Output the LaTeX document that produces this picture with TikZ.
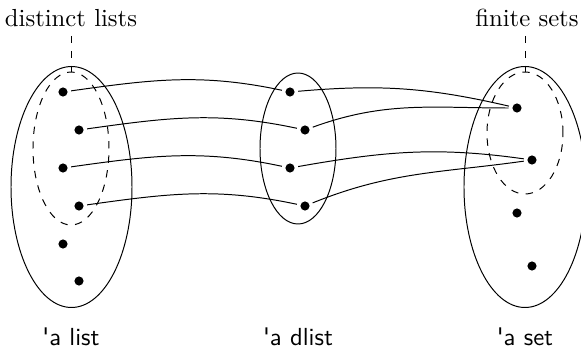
\documentclass[tikz,border=0pt]{standalone}
\usetikzlibrary{shapes.geometric}
\begin{document}
\begin{tikzpicture}[x=0.405pt,y=-0.405pt,
  dot/.style={circle,fill,inner sep=0pt,minimum size=3.7pt,outer sep=1.5pt},
  oval/.style={ellipse,draw,inner sep=0pt},
  dashoval/.style={ellipse,draw,dashed,inner sep=0pt},
  typelab/.style={anchor=base,font=\sffamily},
  setlab/.style={anchor=base},
  link/.style={draw}]
\useasboundingbox (0,0) rectangle (581,350);
% ellipses
\node[oval,minimum width=121*0.405pt,minimum height=241*0.405pt] (L) at (71.5,187) {};
\node[dashoval,minimum width=76*0.405pt,minimum height=153*0.405pt] (Ld) at (71,148.5) {};
\node[oval,minimum width=76*0.405pt,minimum height=151*0.405pt] (M) at (298,148.5) {};
\node[oval,minimum width=122*0.405pt,minimum height=241*0.405pt] (R) at (525,187) {};
\node[dashoval,minimum width=76*0.405pt,minimum height=122*0.405pt] (Rd) at (525,133) {};
% dots
\node[dot] (l1) at (63,92) {};
\node[dot] (l2) at (79,130) {};
\node[dot] (l3) at (63,168) {};
\node[dot] (l4) at (79,206) {};
\node[dot] (l5) at (63,244) {};
\node[dot] (l6) at (79,281) {};
\node[dot] (m1) at (290,92) {};
\node[dot] (m2) at (305,130) {};
\node[dot] (m3) at (290,168) {};
\node[dot] (m4) at (305,206) {};
\node[dot] (r1) at (517,108) {};
\node[dot] (r2) at (532,160) {};
\node[dot] (r3) at (517,213) {};
\node[dot] (r4) at (532,266) {};
% connectors
\draw[link] (l1) to[out=8,in=168] (m1);
\draw[link] (l2) to[out=8,in=168] (m2);
\draw[link] (l3) to[out=8,in=168] (m3);
\draw[link] (l4) to[out=8,in=168] (m4);
\draw[link] (m1) to[out=5,in=167] (r1);
\draw[link] (m2) to[out=20,in=180] (r1);
\draw[link] (m3) to[out=10,in=172] (r2);
\draw[link] (m4) to[out=22,in=188] (r2);
% labels
\node[setlab] (dl) at (71,27) {distinct lists};
\node[setlab] (fs) at (527,27) {finite sets};
\draw[dashed] (dl.south) -- (Ld.north);
\draw[dashed] (Rd.north |- fs.south) -- (Rd.north);
\node[typelab] (tl) at (71,346) {\textquotesingle a list};
\node[typelab] (tm) at (298,346) {\textquotesingle a dlist};
\node[typelab] (tr) at (525,346) {\textquotesingle a set};
\end{tikzpicture}
\end{document}
